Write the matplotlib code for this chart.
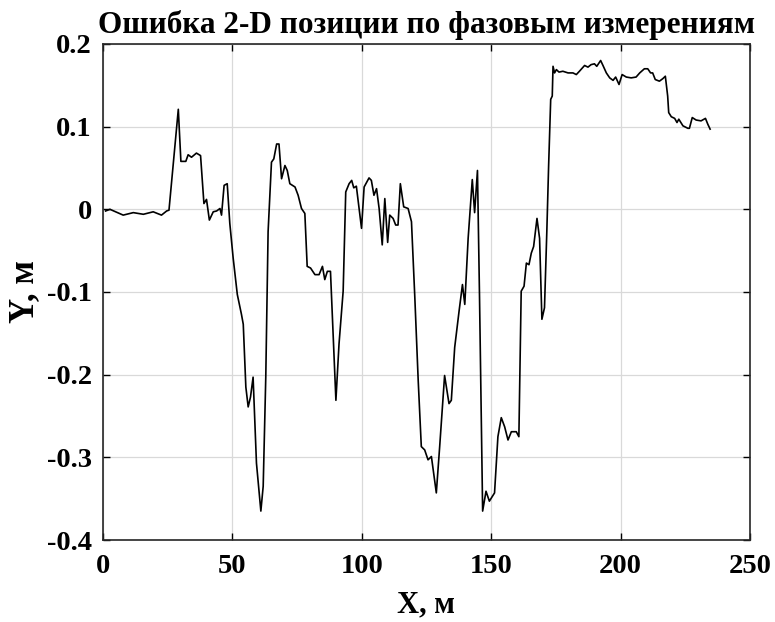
import matplotlib
matplotlib.use('Agg')
import matplotlib.pyplot as plt

# values
x_m = [1, 2.7, 7.8, 11.7, 15.6, 19.4, 22.6, 24.6, 25.5, 29.1, 30.1, 32.0, 32.9, 34.2,
       36.1, 37.7, 39.0, 40.0, 41.1, 42.6, 43.9, 45.2, 45.8, 46.8, 48.0, 49.0, 50.3,
       51.9, 53.5, 54.2, 55.2, 56.1, 57.0, 58.0, 59.3, 61.0, 61.9, 62.9, 63.8, 65.1,
       66.0, 67.1, 68.0, 69.0, 70.3, 71.2, 72.2, 74.2, 75.4, 76.7, 78.0, 78.9, 80.2,
       81.9, 83.5, 84.8, 85.7, 86.7, 87.9, 90.0, 91.2, 92.8, 93.8, 95.1, 96.1, 96.9,
       97.9, 99.9, 100.9, 102.8, 103.7, 104.7, 105.7, 106.7, 107.9, 108.9, 110.0,
       110.8, 112.1, 113.1, 114.0, 114.9, 116.2, 117.9, 119.2, 120.5, 121.8, 123.0,
       124.3, 125.6, 126.9, 128.8, 130.1, 132.0, 133.7, 134.6, 135.9, 137.6, 138.9,
       139.8, 141.1, 142.7, 143.6, 144.7, 145.5, 146.7, 148.0, 149.3, 151.3, 152.6,
       153.9, 155.2, 156.5, 157.8, 159.7, 160.7, 161.6, 162.7, 163.6, 164.6, 165.5,
       166.4, 167.7, 168.7, 169.6, 170.6, 171.5, 172.2, 173.0, 173.6, 173.9, 174.5,
       175.2, 176.2, 177.7, 179.7, 181.6, 182.9, 184.1, 186.1, 187.4, 188.6, 189.9,
       190.8, 192.3, 193.2, 194.5, 195.8, 197.1, 198.1, 199.4, 200.6, 202.2, 204.1,
       206.0, 207.4, 209.2, 210.5, 211.6, 212.4, 213.4, 215.0, 216.3, 217.3, 218.2,
       218.6, 219.6, 220.9, 221.8, 222.5, 224.1, 226.0, 226.6, 227.7, 229.2, 231.1,
       232.8, 233.7, 234.6]
y_m = [-0.002, 0.0, -0.007, -0.004, -0.006, -0.003, -0.007, -0.002, -0.001, 0.121,
       0.058, 0.058, 0.066, 0.063, 0.068, 0.065, 0.007, 0.012, -0.013, -0.003, -0.002,
       0.001, -0.007, 0.029, 0.031, -0.017, -0.059, -0.103, -0.127, -0.139, -0.215,
       -0.239, -0.227, -0.203, -0.307, -0.365, -0.335, -0.203, -0.027, 0.057, 0.061,
       0.079, 0.079, 0.037, 0.053, 0.047, 0.031, 0.027, 0.017, 0.001, -0.005, -0.069,
       -0.071, -0.079, -0.079, -0.069, -0.085, -0.075, -0.075, -0.231, -0.163, -0.099,
       0.021, 0.031, 0.035, 0.026, 0.028, -0.023, 0.027, 0.038, 0.035, 0.017, 0.025,
       0.001, -0.043, 0.013, -0.040, -0.007, -0.011, -0.019, -0.019, 0.031, 0.003,
       0.001, -0.015, -0.107, -0.207, -0.287, -0.291, -0.303, -0.299, -0.343, -0.287,
       -0.201, -0.235, -0.231, -0.167, -0.123, -0.091, -0.115, -0.035, 0.036, -0.004,
       0.047, -0.107, -0.365, -0.341, -0.353, -0.343, -0.275, -0.252, -0.263, -0.279,
       -0.269, -0.269, -0.275, -0.099, -0.093, -0.065, -0.067, -0.053, -0.045, -0.011,
       -0.035, -0.133, -0.119, -0.027, 0.053, 0.133, 0.137, 0.173, 0.165, 0.169, 0.166,
       0.167, 0.165, 0.165, 0.163, 0.167, 0.174, 0.172, 0.175, 0.176, 0.173, 0.180,
       0.174, 0.165, 0.159, 0.156, 0.160, 0.151, 0.163, 0.160, 0.159, 0.160, 0.165,
       0.170, 0.170, 0.165, 0.165, 0.157, 0.155, 0.158, 0.161, 0.137, 0.117, 0.112,
       0.110, 0.105, 0.109, 0.101, 0.098, 0.098, 0.111, 0.108, 0.107, 0.110, 0.103,
       0.097]

x_ticks = [0, 50, 100, 150, 200, 250]
y_ticks = [-0.4, -0.3, -0.2, -0.1, 0, 0.1, 0.2]
y_labels = ['-0.4', '-0.3', '-0.2', '-0.1', '0', '0.1', '0.2']

plt.rcParams['font.family'] = ['Liberation Serif', 'DejaVu Serif']
plt.rcParams['font.weight'] = 'bold'

fig = plt.figure(figsize=(7.75, 6.22), dpi=100)
ax = fig.add_axes([0.1329, 0.1318, 0.8348, 0.7975])

ax.plot(x_m, y_m, color='black', linewidth=1.2)

ax.set_xlim(0, 250)
ax.set_ylim(-0.4, 0.2)
ax.set_xticks(x_ticks)
ax.set_xticklabels([str(v) for v in x_ticks])
ax.set_yticks(y_ticks)
ax.set_yticklabels(y_labels)
ax.tick_params(direction='in', length=5, width=1, top=True, right=True,
               labelsize=20.5, colors='black')
ax.tick_params(axis='x', pad=10)
ax.tick_params(axis='y', pad=8)
for lab in ax.get_xticklabels() + ax.get_yticklabels():
    lab.set_fontweight('bold')
ax.grid(True, color='#d9d9d9', linewidth=0.9)
ax.set_axisbelow(True)
for s in ax.spines.values():
    s.set_linewidth(1.2)
    s.set_color('#262626')

ax.set_xlabel('X, м', fontsize=22, fontweight='bold', labelpad=8)
ax.set_ylabel('Y, м', fontsize=25, fontweight='bold', labelpad=4)
ax.set_title('Ошибка 2-D позиции по фазовым измерениям', fontsize=22.5,
             fontweight='bold', pad=8)

fig.savefig('out.png', dpi=100)
